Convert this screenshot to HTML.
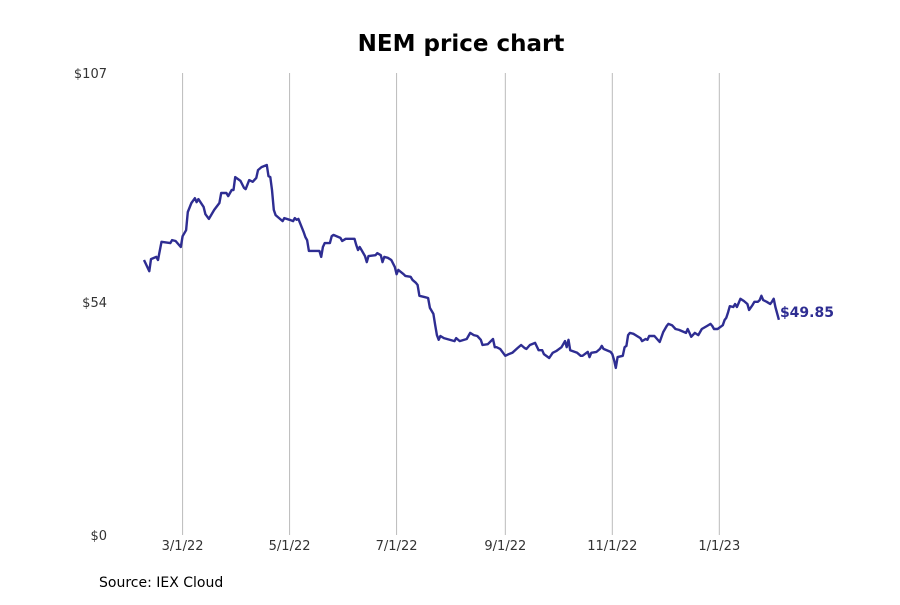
<!DOCTYPE html>
<html><head><meta charset="utf-8"><style>
body{margin:0;background:#fff;font-family:"Liberation Sans","DejaVu Sans",sans-serif}
</style></head><body>
<svg width="900" height="600" xmlns="http://www.w3.org/2000/svg" style="font-family:'DejaVu Sans','Liberation Sans',sans-serif">
<text x="461" y="51" text-anchor="middle" font-size="23" font-weight="bold" fill="#000">NEM price chart</text>
<g id="grid"></g><g id="yt"></g><g id="xt"></g>
<path id="line" fill="none" stroke="#2e2d92" stroke-width="2.4" stroke-linejoin="round"/>
<text id="lastlbl" font-size="14" font-weight="bold" fill="#2e2d92"></text>
<text x="99" y="587" font-size="14" fill="#000">Source: IEX Cloud</text>
</svg>
<script>
const days=[0,3,4,7,8,10,15,16,18,21,22,24,25,27,29,30,31,34,35,37,40,43,44,47,48,50,51,52,55,57,58,60,62,64,65,67,70,71,72,73,74,75,79,80,83,85,86,87,88,91,92,93,94,100,101,102,103,106,107,108,112,113,115,120,121,122,123,124,126,127,128,132,133,135,136,137,139,141,143,144,145,148,149,152,153,155,156,157,160,162,163,165,166,167,168,169,171,177,178,180,184,186,188,190,192,193,196,199,200,201,203,206,208,210,213,215,217,218,220,223,225,227,228,231,233,235,238,240,241,242,243,247,249,250,253,254,255,258,260,261,262,266,267,268,269,270,273,274,275,276,277,279,283,284,286,287,288,291,294,296,298,299,301,303,305,309,310,311,312,314,316,318,321,323,324,325,327,330,331,332,333,334,336,337,338,339,340,342,344,345,347,348,350,351,352,353,355,357,358,359,360,362];
const prices=[63.7,61.1,63.9,64.4,63.7,67.9,67.6,68.3,68.1,66.7,69.2,70.6,74.8,76.9,78.0,77.1,77.8,76.0,74.3,73.2,75.3,76.9,79.2,79.2,78.5,79.9,79.9,82.9,82.0,80.4,80.1,82.2,81.8,82.7,84.5,85.2,85.7,83.1,82.9,79.9,75.3,74.1,72.7,73.4,73.0,72.7,73.4,73.0,73.2,70.2,69.0,68.3,65.8,65.8,64.4,66.7,67.6,67.6,69.2,69.5,68.8,68.1,68.6,68.6,67.2,66.0,66.7,66.0,64.6,63.2,64.6,64.8,65.3,64.8,63.2,64.4,64.2,63.7,62.1,60.4,61.4,60.4,60.0,59.8,59.1,58.4,57.9,55.4,55.1,54.9,52.6,51.2,48.6,46.3,45.2,46.1,45.6,44.9,45.6,44.9,45.4,46.8,46.3,46.1,45.2,44.0,44.2,45.4,43.5,43.5,43.1,41.5,41.9,42.2,43.3,44.0,43.3,43.1,44.0,44.5,42.8,42.8,41.9,41.0,42.2,42.6,43.5,44.9,43.5,45.2,42.8,42.2,41.5,41.5,42.4,41.2,42.2,42.4,43.1,43.8,43.1,42.4,41.9,40.5,38.7,41.2,41.5,43.5,43.8,46.3,46.8,46.6,45.6,44.9,45.4,45.2,46.1,46.1,44.7,47.0,48.4,48.9,48.6,47.7,47.5,46.8,47.7,46.8,45.9,46.8,46.3,47.7,48.4,48.9,48.4,47.7,47.7,48.6,49.8,50.3,51.6,53.0,52.8,53.5,52.8,53.7,54.7,54.2,53.5,52.1,53.3,54.0,54.0,54.4,55.4,54.4,54.0,53.5,54.0,54.7,52.8,49.85];
const xTickDays=[22,83,144,206,267,328];
const xTickLabels=["3/1/22","5/1/22","7/1/22","9/1/22","11/1/22","1/1/23"];
const yTickValues=[0,54,107];
const yTickLabels=["$0","$54","$107"];
const yMax=107;
</script>
<script>
const NS="http://www.w3.org/2000/svg";
const X0=144,PXD=1.754,YT=73,YB=535;
const xs=d=>X0+d*PXD;
const ys=v=>YB-(v/yMax)*(YB-YT);
function mk(t,a,p){const e=document.createElementNS(NS,t);for(const k in a)e.setAttribute(k,a[k]);p.appendChild(e);return e;}
const grid=document.getElementById('grid'),xt=document.getElementById('xt'),yt=document.getElementById('yt');
xTickDays.forEach((d,i)=>{
  const l=mk('line',{x1:xs(d),x2:xs(d),y1:YT,y2:YB,stroke:'#bbb','stroke-width':1},grid);
  
  
  const t=mk('text',{x:xs(d),y:YB+15,'text-anchor':'middle','font-size':13,fill:'#333'},xt);
  t.textContent=xTickLabels[i];
  
  
});
yTickValues.forEach((v,i)=>{
  const t=mk('text',{x:107,y:ys(v)+5,'text-anchor':'end','font-size':13,fill:'#333'},yt);
  t.textContent=yTickLabels[i];
  
  
});
document.getElementById('line').setAttribute('d',days.map((d,i)=>(i?'L':'M')+xs(d).toFixed(1)+','+ys(prices[i]).toFixed(1)).join(''));
const last=prices[prices.length-1],lb=document.getElementById('lastlbl');
lb.setAttribute('x',xs(days[days.length-1])+1);
lb.setAttribute('y',ys(last)-3);
lb.textContent='$'+last.toFixed(2);
</script>
</body></html>
